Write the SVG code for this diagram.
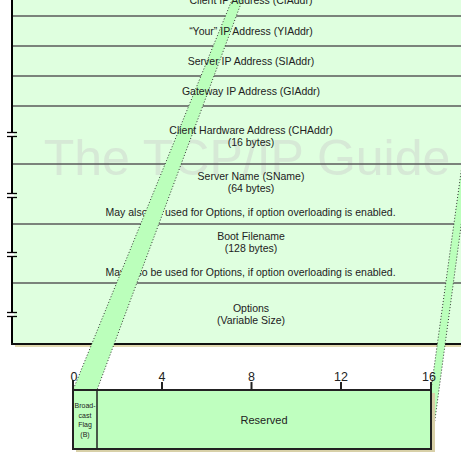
<svg xmlns="http://www.w3.org/2000/svg" width="461" height="460" viewBox="0 0 461 460">
<style>
.t{font-family:"Liberation Sans",Arial,sans-serif;font-size:10.5px;fill:#222;text-anchor:middle}
.n{font-family:"Liberation Sans",Arial,sans-serif;font-size:12.5px;fill:#222;text-anchor:middle}
.s{font-family:"Liberation Sans",Arial,sans-serif;font-size:7px;fill:#222;text-anchor:middle}
.row{stroke:#5a5a5a;stroke-width:1.5}
.brk{stroke:#000;stroke-width:1.3}
.dot{fill:#bbffbb;stroke:#333;stroke-width:1;stroke-dasharray:1,2}
</style>
<rect width="461" height="460" fill="#fff"/>
<g id="table">
<rect x="15" y="-20" width="500" height="367" fill="#e2d9b0"/>
<rect x="12" y="-20" width="500" height="364" fill="#dfffdf"/>
<text x="247" y="175" font-family="Liberation Sans,Arial,sans-serif" font-size="50" fill="#d6e9d6" text-anchor="middle">The TCP/IP Guide</text>
<g id="rows">
<line class="row" x1="12" y1="16" x2="470" y2="16"/>
<line class="row" x1="12" y1="46" x2="470" y2="46"/>
<line class="row" x1="12" y1="76" x2="470" y2="76"/>
<line class="row" x1="12" y1="106" x2="470" y2="106"/>
<line class="row" x1="12" y1="164" x2="470" y2="164"/>
<line class="row" x1="12" y1="224" x2="470" y2="224"/>
<line class="row" x1="12" y1="283" x2="470" y2="283"/>
</g>
<g id="sname-note"><text class="t" x="250.5" y="215.5">May also be used for Options, if option overloading is enabled.</text></g>
<g id="file-note"><text class="t" x="250.5" y="275.5">May also be used for Options, if option overloading is enabled.</text></g>
<line x1="12" y1="-20" x2="12" y2="345" stroke="#000" stroke-width="2"/>
<line x1="11" y1="344" x2="470" y2="344" stroke="#111" stroke-width="2"/>
<g id="breaks">
<rect x="10" y="133" width="4" height="3.5" fill="#fff"/>
<line class="brk" x1="7" y1="132.5" x2="17" y2="132.5"/><line class="brk" x1="7" y1="136.5" x2="17" y2="136.5"/>
<rect x="10" y="194" width="4" height="3.5" fill="#fff"/>
<line class="brk" x1="7" y1="193.5" x2="17" y2="193.5"/><line class="brk" x1="7" y1="197.5" x2="17" y2="197.5"/>
<rect x="10" y="253" width="4" height="3.5" fill="#fff"/>
<line class="brk" x1="7" y1="252.5" x2="17" y2="252.5"/><line class="brk" x1="7" y1="256.5" x2="17" y2="256.5"/>
<rect x="10" y="313" width="4" height="3.5" fill="#fff"/>
<line class="brk" x1="7" y1="312.5" x2="17" y2="312.5"/><line class="brk" x1="7" y1="316.5" x2="17" y2="316.5"/>
</g>
</g>
<g id="connectors">
<polygon class="dot" points="236,-10 246,-10 97,390 73,390"/>
<polygon class="dot" points="471,100 478,100 431,449 431,390"/>
</g>
<g id="ciaddr"><text class="t" x="251" y="4">Client IP Address (CIAddr)</text></g>
<g id="yiaddr"><text class="t" x="251" y="34.5">“Your” IP Address (YIAddr)</text></g>
<g id="siaddr"><text class="t" x="251" y="64.5">Server IP Address (SIAddr)</text></g>
<g id="giaddr"><text class="t" x="251" y="94.5">Gateway IP Address (GIAddr)</text></g>
<g id="chaddr"><text class="t" x="251" y="134">Client Hardware Address (CHAddr)</text><text class="t" x="251" y="146">(16 bytes)</text></g>
<g id="sname"><text class="t" x="251" y="180">Server Name (SName)</text><text class="t" x="251" y="192">(64 bytes)</text></g>
<g id="file"><text class="t" x="251" y="240">Boot Filename</text><text class="t" x="251" y="252">(128 bytes)</text></g>
<g id="options"><text class="t" x="251" y="311.5">Options</text><text class="t" x="251" y="323.5">(Variable Size)</text></g>
<g id="flags">
<rect x="76" y="393" width="359" height="59" fill="#d8d0a8"/>
<rect x="73" y="390" width="358" height="59" fill="#bfffbf" stroke="#222" stroke-width="2"/>
<line x1="97" y1="390" x2="97" y2="449" stroke="#222" stroke-width="1.5"/>
<line x1="73" y1="380" x2="73" y2="390" stroke="#222" stroke-width="2"/>
<line x1="162" y1="382" x2="162" y2="390" stroke="#222" stroke-width="2"/>
<line x1="251.5" y1="382" x2="251.5" y2="390" stroke="#222" stroke-width="2"/>
<line x1="341" y1="382" x2="341" y2="390" stroke="#222" stroke-width="2"/>
<line x1="431" y1="382" x2="431" y2="390" stroke="#222" stroke-width="2"/>
<text class="n" x="74" y="380.5">0</text>
<text class="n" x="162" y="380.5">4</text>
<text class="n" x="251.5" y="380.5">8</text>
<text class="n" x="341" y="380.5">12</text>
<text class="n" x="429" y="380.5">16</text>
<g id="bflag">
<text class="s" x="85" y="408">Broad-</text>
<text class="s" x="85" y="417.5">cast</text>
<text class="s" x="85" y="427">Flag</text>
<text class="s" x="85" y="436.5">(B)</text>
</g>
<g id="reserved"><text class="t" x="264" y="424" style="font-size:11px">Reserved</text></g>
</g>
</svg>
